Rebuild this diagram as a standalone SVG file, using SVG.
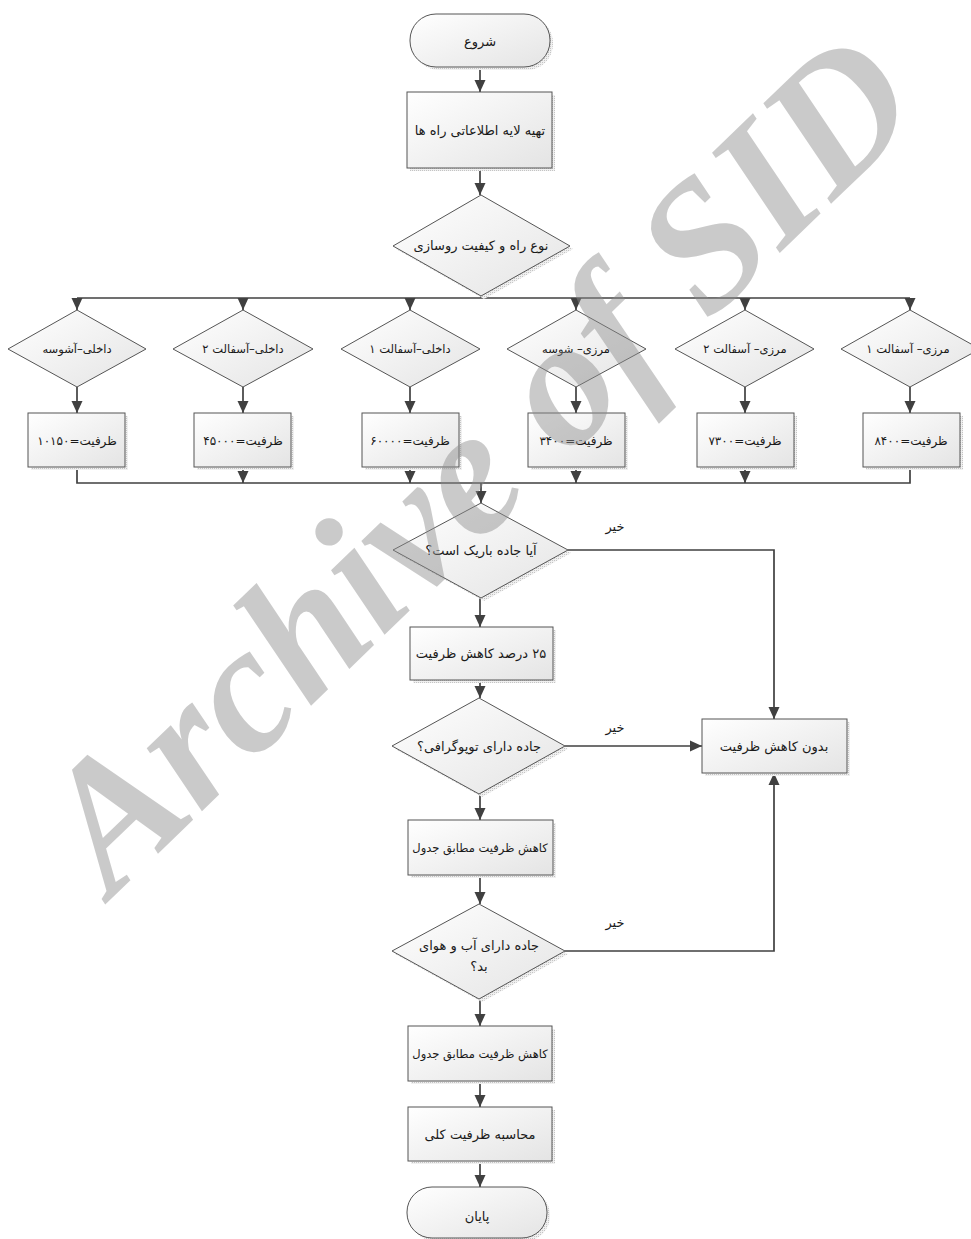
<svg xmlns="http://www.w3.org/2000/svg" width="971" height="1239" viewBox="0 0 971 1239">
<defs>
<linearGradient id="fillg" x1="0" y1="0" x2="1" y2="1">
<stop offset="0" stop-color="#ffffff"/>
<stop offset="1" stop-color="#e4e4e4"/>
</linearGradient>
<pattern id="hatch" width="2" height="2" patternUnits="userSpaceOnUse">
<rect width="2" height="2" fill="#f0f0f0"/>
<rect width="1" height="1" fill="#c4c4c4"/>
</pattern>
<marker id="arr" viewBox="0 0 12 12" refX="12" refY="6" markerWidth="12" markerHeight="12" markerUnits="userSpaceOnUse" orient="auto">
<path d="M0,0.5 L12,6 L0,11.5 Z" fill="#404040"/>
</marker>
<style>
.n{fill:url(#fillg);stroke:#555555;stroke-width:1}
.sh{fill:url(#hatch);stroke:none}
.c{fill:none;stroke:#404040;stroke-width:1.7}
.ca{fill:none;stroke:#404040;stroke-width:1.7;marker-end:url(#arr)}
.t{font-family:"DejaVu Sans",sans-serif;font-size:13px;fill:#1a1a1a;text-anchor:middle;direction:rtl}
.tb{font-family:"DejaVu Sans",sans-serif;font-size:12px;fill:#1a1a1a;text-anchor:middle;direction:rtl}
.ts{font-family:"DejaVu Sans",sans-serif;font-size:11.5px;fill:#1a1a1a;text-anchor:middle;direction:rtl}
.wm{font-family:"Liberation Serif",serif;font-weight:bold;font-style:italic;font-size:182px;fill:#8c8c8c;opacity:0.45}
</style>
</defs>
<rect width="971" height="1239" fill="#ffffff"/>

<g id="connectors">
<path class="ca" d="M480,67 V92"/>
<path class="ca" d="M480,168 V195"/>
<path class="c" d="M481,296 V298"/>
<path class="c" d="M77,298 H910"/>
<path class="ca" d="M77,298 V310"/>
<path class="ca" d="M243,298 V310"/>
<path class="ca" d="M410,298 V310"/>
<path class="ca" d="M576,298 V310"/>
<path class="ca" d="M745,298 V310"/>
<path class="ca" d="M910,298 V310"/>
<path class="ca" d="M77,387 V413"/>
<path class="ca" d="M243,387 V413"/>
<path class="ca" d="M410,387 V413"/>
<path class="ca" d="M576,387 V413"/>
<path class="ca" d="M745,387 V413"/>
<path class="ca" d="M910,387 V413"/>
<path class="c" d="M77,467 V483 H910 V467"/>
<path class="ca" d="M243,467 V483"/>
<path class="ca" d="M410,467 V483"/>
<path class="ca" d="M576,467 V483"/>
<path class="ca" d="M745,467 V483"/>
<path class="ca" d="M481,483 V503"/>
<path class="ca" d="M480,598 V627"/>
<path class="ca" d="M568,550 H774 V719"/>
<path class="ca" d="M480,680 V698"/>
<path class="ca" d="M565,746 H702"/>
<path class="ca" d="M480,794 V820"/>
<path class="ca" d="M480,875 V904"/>
<path class="ca" d="M565,951 H774 V773"/>
<path class="ca" d="M480,999 V1026"/>
<path class="ca" d="M480,1081 V1107"/>
<path class="ca" d="M480,1161 V1187"/>
<text class="t" x="615" y="531">خیر</text>
<text class="t" x="615" y="732">خیر</text>
<text class="t" x="615" y="927">خیر</text>
</g>

<g id="start">
<rect class="sh" x="413" y="17" width="140" height="53" rx="26"/>
<rect class="n" x="410" y="14" width="140" height="53" rx="26"/>
<text class="t" x="480" y="46">شروع</text>
</g>

<g id="prepare">
<rect class="sh" x="410" y="95" width="145" height="76"/>
<rect class="n" x="407" y="92" width="145" height="76"/>
<text class="t" x="480" y="135">تهیه لایه اطلاعاتی راه ها</text>
</g>

<g id="roadtype">
<path class="sh" d="M484,198 L573,249 L484,299 L396,249 Z"/>
<path class="n" d="M481,195 L570,246 L481,296 L393,246 Z"/>
<text class="t" x="481" y="250">نوع راه و کیفیت روسازی</text>
</g>

<g id="d1">
<path class="n" d="M77,310 L146,349 L77,387 L8,349 Z"/>
<text class="ts" x="77" y="353">داخلی–آشوسه</text>
</g>
<g id="d2">
<path class="n" d="M243,310 L313,349 L243,387 L173,349 Z"/>
<text class="ts" x="243" y="353">داخلی–آسفالت ۲</text>
</g>
<g id="d3">
<path class="n" d="M410,310 L480,349 L410,387 L341,349 Z"/>
<text class="ts" x="410" y="353">داخلی–آسفالت ۱</text>
</g>
<g id="d4">
<path class="n" d="M576,310 L646,349 L576,387 L507,349 Z"/>
<text class="ts" x="576" y="353">مرزی– شوسه</text>
</g>
<g id="d5">
<path class="n" d="M745,310 L814,349 L745,387 L675,349 Z"/>
<text class="ts" x="745" y="353">مرزی– آسفالت ۲</text>
</g>
<g id="d6">
<path class="n" d="M910,310 L980,349 L910,387 L841,349 Z"/>
<text class="ts" x="908" y="353">مرزی– آسفالت ۱</text>
</g>

<g id="b1">
<rect class="sh" x="31" y="416" width="97" height="54"/>
<rect class="n" x="28" y="413" width="97" height="54"/>
<text class="tb" x="77" y="445">ظرفیت=۱۰۱۵۰</text>
</g>
<g id="b2">
<rect class="sh" x="197" y="416" width="97" height="54"/>
<rect class="n" x="194" y="413" width="97" height="54"/>
<text class="tb" x="243" y="445">ظرفیت=۴۵۰۰۰</text>
</g>
<g id="b3">
<rect class="sh" x="365" y="416" width="97" height="54"/>
<rect class="n" x="362" y="413" width="97" height="54"/>
<text class="tb" x="410" y="445">ظرفیت=۶۰۰۰۰</text>
</g>
<g id="b4">
<rect class="sh" x="531" y="416" width="97" height="54"/>
<rect class="n" x="528" y="413" width="97" height="54"/>
<text class="tb" x="576" y="445">ظرفیت=۳۴۰۰</text>
</g>
<g id="b5">
<rect class="sh" x="700" y="416" width="97" height="54"/>
<rect class="n" x="697" y="413" width="97" height="54"/>
<text class="tb" x="745" y="445">ظرفیت=۷۳۰۰</text>
</g>
<g id="b6">
<rect class="sh" x="866" y="416" width="97" height="54"/>
<rect class="n" x="863" y="413" width="97" height="54"/>
<text class="tb" x="911" y="445">ظرفیت=۸۴۰۰</text>
</g>

<g id="narrow">
<path class="sh" d="M484,506 L571,553 L484,601 L396,553 Z"/>
<path class="n" d="M481,503 L568,550 L481,598 L393,550 Z"/>
<text class="t" x="481" y="555">آیا جاده باریک است؟</text>
</g>

<g id="reduce25">
<rect class="sh" x="413" y="630" width="143" height="53"/>
<rect class="n" x="410" y="627" width="143" height="53"/>
<text class="t" x="481" y="658">۲۵ درصد کاهش ظرفیت</text>
</g>

<g id="topo">
<path class="sh" d="M482,701 L568,749 L482,797 L395,749 Z"/>
<path class="n" d="M479,698 L565,746 L479,794 L392,746 Z"/>
<text class="t" x="479" y="751">جاده دارای توپوگرافی؟</text>
</g>

<g id="noreduce">
<rect class="sh" x="705" y="722" width="145" height="54"/>
<rect class="n" x="702" y="719" width="145" height="54"/>
<text class="t" x="774" y="751">بدون کاهش ظرفیت</text>
</g>

<g id="table1">
<rect class="sh" x="411" y="823" width="145" height="55"/>
<rect class="n" x="408" y="820" width="145" height="55"/>
<text class="ts" x="480" y="852">کاهش ظرفیت مطابق جدول</text>
</g>

<g id="climate">
<path class="sh" d="M482,907 L568,954 L482,1002 L395,954 Z"/>
<path class="n" d="M479,904 L565,951 L479,999 L392,951 Z"/>
<text class="t" x="479" y="950">جاده دارای آب و هوای</text>
<text class="t" x="479" y="971">بد؟</text>
</g>

<g id="table2">
<rect class="sh" x="411" y="1029" width="144" height="55"/>
<rect class="n" x="408" y="1026" width="144" height="55"/>
<text class="ts" x="480" y="1058">کاهش ظرفیت مطابق جدول</text>
</g>

<g id="total">
<rect class="sh" x="411" y="1110" width="144" height="54"/>
<rect class="n" x="408" y="1107" width="144" height="54"/>
<text class="t" x="480" y="1139">محاسبه ظرفیت کلی</text>
</g>

<g id="end">
<rect class="sh" x="410" y="1190" width="140" height="51" rx="25"/>
<rect class="n" x="407" y="1187" width="140" height="51" rx="25"/>
<text class="t" x="477" y="1221">پایان</text>
</g>

<g id="watermark">
<text class="wm" transform="translate(112,898) rotate(-44)" x="0" y="0">Archive of SID</text>
</g>
</svg>
